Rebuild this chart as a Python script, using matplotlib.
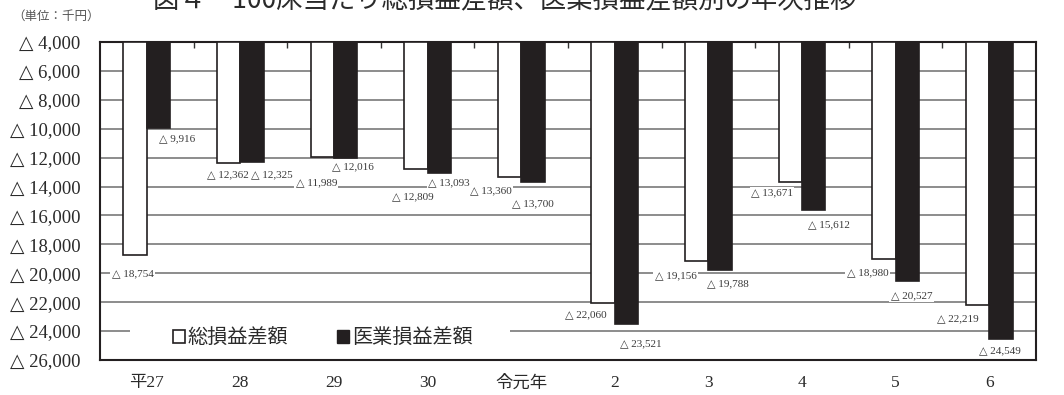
import matplotlib
matplotlib.use("Agg")
import matplotlib.pyplot as plt
import matplotlib.patches as mpatches
import numpy as np

# 年次（平成27年～令和6年）
years = ["平27", "28", "29", "30", "令元年", "2", "3", "4", "5", "6"]
# 100床当たり損益差額（千円、赤字額）
total_loss = [18754, 12362, 11989, 12809, 13360, 22060, 19156, 13671, 18980, 22219]
medical_loss = [9916, 12325, 12016, 13093, 13700, 23521, 19788, 15612, 20527, 24549]
y_ticks = list(range(4000, 26001, 2000))

# ラベル位置のずらし (x: 区間単位, y: 千円)
tot_dx = [-0.15, -0.13, -0.19, -0.16, -0.32, -0.31, -0.35, -0.32, -0.30, -0.34]
tot_dy = [1296, 839, 1766, 1914, 948, 827, 1033, 776, 1001, 945]
med_dx = [0.32, 0.34, 0.20, 0.23, 0.13, 0.28, 0.21, 0.29, 0.17, 0.11]
med_dy = [795, 876, 632, 662, 1507, 1372, 954, 1048, 1045, 828]

serif = ["Liberation Serif", "DejaVu Serif", "DejaVu Sans", "Noto Sans CJK JP"]
gothic = ["Noto Sans CJK JP", "DejaVu Sans"]
ink = "#231f20"

fig = plt.figure(figsize=(10.64, 3.95), dpi=100)
ax = fig.add_axes([100 / 1064, 1 - 360 / 395, 936 / 1064, 318 / 395])

x = np.arange(len(years))
w = 0.25
base = y_ticks[0]
ax.bar(x - w / 2, np.array(total_loss) - base, w, bottom=base, color="white",
       edgecolor=ink, linewidth=1.2, zorder=3)
ax.bar(x + w / 2, np.array(medical_loss) - base, w, bottom=base, color=ink,
       edgecolor=ink, linewidth=1.2, zorder=3)

for i in range(len(years)):
    ax.text(x[i] + tot_dx[i], total_loss[i] + tot_dy[i], f"△ {total_loss[i]:,}",
            ha="center", va="center", fontsize=8, family=serif, color="#3a3a3a",
            bbox=dict(facecolor="white", edgecolor="none", pad=1), zorder=4)
    ax.text(x[i] + med_dx[i], medical_loss[i] + med_dy[i], f"△ {medical_loss[i]:,}",
            ha="center", va="center", fontsize=8, family=serif, color="#3a3a3a",
            bbox=dict(facecolor="white", edgecolor="none", pad=1), zorder=4)

ax.set_xlim(-0.5, len(years) - 0.5)
ax.set_ylim(y_ticks[-1], y_ticks[0])
ax.set_yticks(y_ticks)
ax.set_yticklabels([f"△ {v:,}" for v in y_ticks], family=serif, fontsize=13.5,
                   color="#2a2a2a")
ax.set_xticks(x)
ax.set_xticklabels(years, family=serif, fontsize=12.5, color="#2a2a2a")
ax.tick_params(axis="x", length=0, pad=11)
ax.tick_params(axis="y", length=0, pad=14)
ax.set_xticks(np.arange(0.5, len(years) - 0.5), minor=True)
ax.tick_params(axis="x", which="minor", top=True, bottom=False, direction="in",
               length=4, width=1, color="#333333")
ax.grid(axis="y", color="#8c8c8c", linewidth=1.4, zorder=1)
ax.set_axisbelow(True)
for s in ax.spines.values():
    s.set_linewidth(1.5)
    s.set_color(ink)

# 凡例の背後の罫線を白で隠す
ax.add_patch(mpatches.Rectangle((0.032, 0.045), 0.406, 0.05, transform=ax.transAxes,
                                facecolor="white", edgecolor="none", zorder=2))

handles = [mpatches.Patch(facecolor="white", edgecolor=ink, linewidth=1.2,
                          label="総損益差額"),
           mpatches.Patch(facecolor=ink, edgecolor=ink, label="医業損益差額")]
leg = ax.legend(handles=handles, loc="center", bbox_to_anchor=(0.238, 0.07), ncol=2,
                frameon=False, handlelength=0.6, handleheight=0.6, handletextpad=0.15,
                columnspacing=2.4, borderpad=0.2,
                prop={"family": gothic, "size": 14.5})
leg.set_zorder(5)
for t in leg.get_texts():
    t.set_color("#2a2a2a")

fig.text(505 / 1064, 1 - 1 / 395, "図４　100床当たり総損益差額、医業損益差額別の年次推移",
         ha="center", va="center", fontsize=19, family=gothic, color="#2a2a2a")
fig.text(12 / 1064, 1 - 16 / 395, "（単位：千円）", ha="left", va="center",
         fontsize=9, family=gothic, color="#555555")

fig.savefig("out.png", dpi=100)
